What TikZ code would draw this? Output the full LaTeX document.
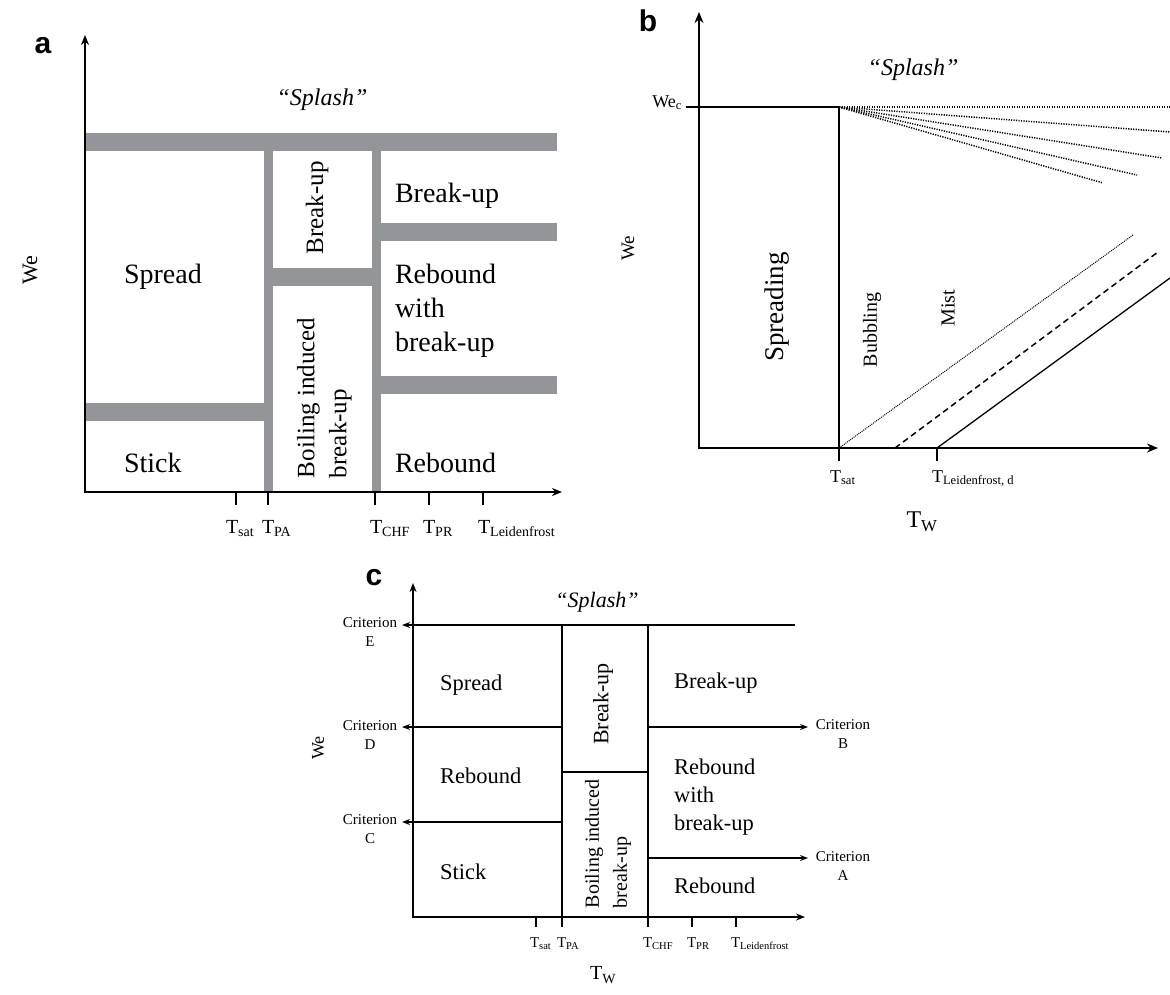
\documentclass[tikz,border=0pt]{standalone}
\usepackage{fontspec}
\setmainfont{Liberation Serif}
\newfontfamily\panelfont{Liberation Sans}
\usetikzlibrary{arrows.meta}
\definecolor{bargray}{HTML}{939598}
\newcommand{\fsz}[2]{\fontsize{#1}{#2}\selectfont}
\begin{document}
\begin{tikzpicture}[x=1pt,y=-1pt,
  every node/.style={inner sep=0pt,outer sep=0pt},
  axisA/.style={line width=2pt,-{Stealth[length=10pt,width=8pt]}},
  axisB/.style={line width=2.5pt,-{Stealth[length=11pt,width=9pt]}},
  axisC/.style={line width=1.8pt,-{Stealth[length=9pt,width=7pt]}},
  hbar/.style={bargray,line width=18pt},
  vbar/.style={bargray,line width=9pt},
  tick/.style={line width=2pt},
  thin/.style={line width=1.8pt},
  crit/.style={line width=1.6pt,-{Stealth[length=8pt,width=6pt]}},
  panel/.style={font=\panelfont\bfseries\fsz{30}{30}},
  regA/.style={font=\fsz{28}{34}},
  rotA/.style={font=\fsz{25}{32},rotate=90},
  regC/.style={font=\fsz{22.5}{28}},
  rotC/.style={font=\fsz{20}{28},rotate=90},
  splash/.style={font=\itshape\fsz{24}{24}},
  tlabA/.style={font=\fsz{20}{20},anchor=base west},
  tlabB/.style={font=\fsz{18}{18},anchor=base west},
  tlabC/.style={font=\fsz{15}{15},anchor=base west},
  critlab/.style={font=\fsz{15}{19},align=center,anchor=north}
]
\useasboundingbox (0,0) rectangle (1170,994);

% ================= panel a =================
\node[panel] (pa) at (43,46) {a};
\coordinate (aO) at (85,492);
\coordinate (aY) at (85,35);
\coordinate (aX) at (562,492);
\draw[hbar] (85,142) -- (557,142);
\draw[vbar] (268.5,151) -- (268.5,492);
\draw[vbar] (376,151) -- (376,492);
\draw[hbar] (268,277) -- (376,277);
\draw[hbar] (376,232) -- (557,232);
\draw[hbar] (376,385) -- (557,385);
\draw[hbar] (85,412) -- (268,412);
\draw[axisA] ([yshift=1pt]aO) -- (aY);
\draw[axisA] ([xshift=-1pt]aO) -- (aX);
\foreach \x in {236,268,375,429,483} \draw[tick] (\x,492) -- (\x,505);
\node[tlabA] (aTsat) at (226,533) {T\textsubscript{sat}};
\node[tlabA] (aTPA) at (262,533) {T\textsubscript{PA}};
\node[tlabA] (aTCHF) at (370,533) {T\textsubscript{CHF}};
\node[tlabA] (aTPR) at (423,533) {T\textsubscript{PR}};
\node[tlabA] (aTL) at (478,533) {T\textsubscript{Leidenfrost}};
\node[font=\fsz{22}{22},rotate=90] (aWe) at (30,270) {We};
\node[splash] (aSplash) at (322,100) {“Splash”};
\node[regA,anchor=base west] (aSpread) at (124,283) {Spread};
\node[regA,anchor=base west] (aStick) at (124,472) {Stick};
\node[regA,anchor=base west] (aBreak) at (395,202) {Break-up};
\node[regA,anchor=north west,align=left] (aRwb) at (395,264) {Rebound\\with\\break-up};
\node[regA,anchor=base west] (aReb) at (395,472) {Rebound};
\node[rotA] (aBreakR) at (317,208) {Break-up};
\node[rotA,anchor=north west,align=left] (aBoil) at (297,478) {Boiling induced\\break-up};

% ================= panel b =================
\node[panel] (pb) at (648,21) {b};
\coordinate (bO) at (699,448);
\coordinate (bY) at (699,12);
\coordinate (bX) at (1158,448);
\coordinate (bC) at (839,107);
\coordinate (bS) at (839,448);
\draw[axisB] ([yshift=1.2pt]bO) -- (bY);
\draw[axisB] ([xshift=-1.2pt]bO) -- (bX);
\draw[line width=2.2pt] (686,107) -- (bC) -- (bS);
\foreach \p in {(1170,107),(1170,132),(1162,158),(1137,175),(1103,183)}
  \draw[line width=1.5pt,dash pattern=on 1.2pt off 1.3pt] (bC) -- \p;
\draw[line width=1pt,dash pattern=on 1pt off 1pt] (bS) -- (1133,235);
\draw[line width=1.5pt,dash pattern=on 6pt off 4pt] (895,448) -- (1158,252);
\draw[line width=1.3pt] (937,448) -- (1170,278);
\draw[line width=2.5pt] (bS) -- (839,461);
\draw[line width=2.5pt] (937,448) -- (937,461);
\node[tlabB] (bTsat) at (830,482) {T\textsubscript{sat}};
\node[tlabB] (bTL) at (932,482) {T\textsubscript{Leidenfrost, d}};
\node[font=\fsz{18}{18},anchor=base east] (bWec) at (682,107) {We\textsubscript{c}};
\node[font=\fsz{27}{27},rotate=90] (bSpreading) at (777,307) {Spreading};
\node[font=\fsz{20}{20},rotate=90] (bBub) at (872,330) {Bubbling};
\node[font=\fsz{20}{20},rotate=90] (bMist) at (948,308) {Mist};
\node[font=\fsz{19}{19},rotate=90] (bWe) at (628,248) {We};
\node[splash] (bSplash) at (913,70) {“Splash”};
\node[font=\fsz{24}{24}] (bTw) at (922,522) {T\textsubscript{W}};

% ================= panel c =================
\node[panel] (pc) at (374,578) {c};
\coordinate (cO) at (413,917);
\coordinate (cY) at (413,583);
\coordinate (cX) at (805,917);
\draw[axisC] ([yshift=1pt]cO) -- (cY);
\draw[axisC] ([xshift=-1pt]cO) -- (cX);
\coordinate (cTop) at (795,625);
\coordinate (cE) at (402,625);
\coordinate (cPAt) at (562,625);
\coordinate (cCHt) at (648,625);
\draw[crit] (cTop) -- (cE);
\draw[thin] (cPAt) -- (562,917);
\draw[thin] (cCHt) -- (648,917);
\draw[crit] (562,727) -- (402,727);
\draw[crit] (562,822) -- (402,822);
\draw[thin] (562,772) -- (648,772);
\draw[crit] (648,727) -- (808,727);
\draw[crit] (648,858) -- (808,858);
\foreach \x in {536,562,648,692,736} \draw[line width=1.8pt] (\x,917) -- (\x,927);
\node[tlabC] (cTsat) at (530,947) {T\textsubscript{sat}};
\node[tlabC] (cTPA) at (557,947) {T\textsubscript{PA}};
\node[tlabC] (cTCHF) at (643,947) {T\textsubscript{CHF}};
\node[tlabC] (cTPR) at (687,947) {T\textsubscript{PR}};
\node[tlabC] (cTL) at (731,947) {T\textsubscript{Leidenfrost}};
\node[font=\fsz{20}{20}] (cTw) at (603,975) {T\textsubscript{W}};
\node[font=\fsz{18}{18},rotate=90] (cWe) at (318,748) {We};
\node[splash,font=\itshape\fsz{22}{22}] (cSplash) at (597,602) {“Splash”};
\node[critlab] (cCE) at (370,618) {Criterion\\E};
\node[critlab] (cCD) at (370,721) {Criterion\\D};
\node[critlab] (cCC) at (370,815) {Criterion\\C};
\node[critlab] (cCB) at (843,720) {Criterion\\B};
\node[critlab] (cCA) at (843,852) {Criterion\\A};
\node[regC,anchor=base west] (cSpread) at (440,690) {Spread};
\node[regC,anchor=base west] (cReb1) at (440,783) {Rebound};
\node[regC,anchor=base west] (cStick) at (440,879) {Stick};
\node[regC,anchor=base west] (cBreak) at (674,688) {Break-up};
\node[regC,anchor=north west,align=left] (cRwb) at (674,759) {Rebound\\with\\break-up};
\node[regC,anchor=base west] (cReb2) at (674,893) {Rebound};
\node[rotC,font=\fsz{22}{22}] (cBreakR) at (603,704) {Break-up};
\node[rotC,anchor=north west,align=left] (cBoil) at (585,908) {Boiling induced\\break-up};
\end{tikzpicture}
\end{document}
